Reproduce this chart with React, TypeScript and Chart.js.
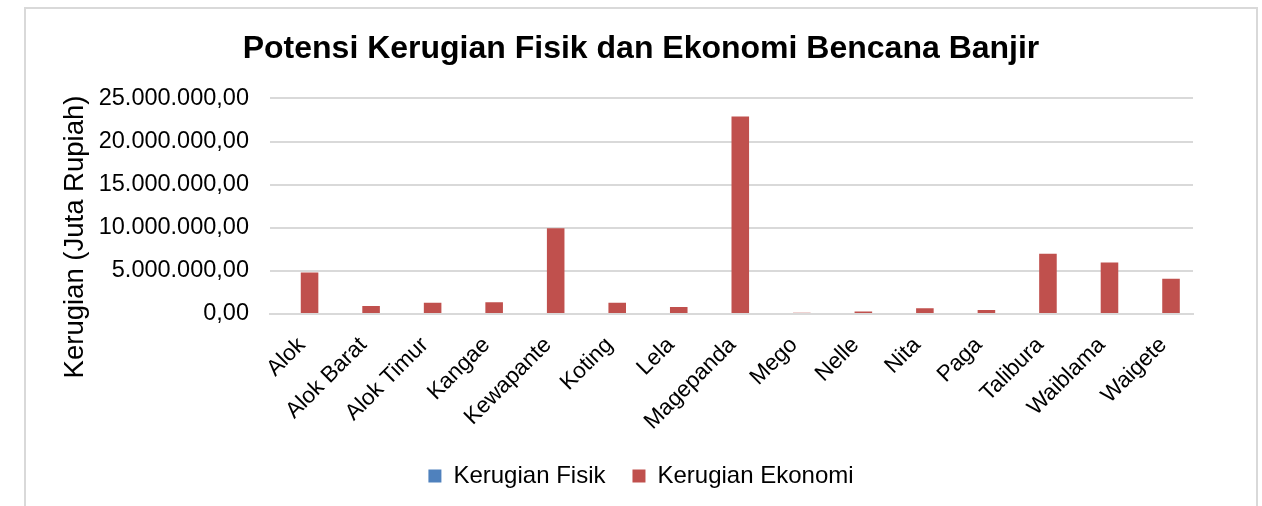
import React, { useEffect, useRef } from "react";
import { Chart, registerables } from "chart.js";

Chart.register(...registerables);

const categories = [
  "Alok", "Alok Barat", "Alok Timur", "Kangae", "Kewapante", "Koting", "Lela",
  "Magepanda", "Mego", "Nelle", "Nita", "Paga", "Talibura", "Waiblama", "Waigete",
];
const kerugianFisik = [0, 0, 0, 0, 0, 0, 0, 0, 0, 0, 0, 0, 0, 0, 0];
const kerugianEkonomi = [
  4800000, 930000, 1310000, 1350000, 9950000, 1310000, 810000,
  22900000, 150000, 300000, 660000, 470000, 7000000, 5970000, 4100000,
];
const yTicks = [0, 5000000, 10000000, 15000000, 20000000, 25000000];

const chartTitle = "Potensi Kerugian Fisik dan Ekonomi Bencana Banjir";
const yTitle = "Kerugian (Juta Rupiah)";
const seriesNames = ["Kerugian Fisik", "Kerugian Ekonomi"];

const FONT = "'Liberation Sans', Arial, sans-serif";

function fmt(v: number): string {
  const [i, d] = v.toFixed(2).split(".");
  return i.replace(/\B(?=(\d{3})+(?!\d))/g, ".") + "," + d;
}

const yTitlePlugin = {
  id: "yTitlePlugin",
  afterDraw(chart: any) {
    const ctx = chart.ctx;
    ctx.save();
    ctx.translate(50, 229);
    ctx.rotate(-Math.PI / 2);
    ctx.font = `27.5px ${FONT}`;
    ctx.fillStyle = "#000000";
    ctx.textAlign = "center";
    ctx.textBaseline = "middle";
    ctx.fillText(yTitle, 0, 0);
    ctx.restore();
  },
};

export default function App() {
  const ref = useRef<HTMLCanvasElement | null>(null);

  useEffect(() => {
    if (!ref.current) return;
    const chart = new Chart(ref.current, {
      type: "bar",
      data: {
        labels: categories,
        datasets: [
          {
            label: seriesNames[0],
            data: kerugianFisik,
            backgroundColor: "#4F81BD",
            categoryPercentage: 0.571,
            barPercentage: 1,
          },
          {
            label: seriesNames[1],
            data: kerugianEkonomi,
            backgroundColor: "#C0504D",
            categoryPercentage: 0.571,
            barPercentage: 1,
          },
        ],
      },
      options: {
        responsive: false,
        animation: false,
        layout: { padding: { left: 0, right: 0, top: 0, bottom: 30 } },
        plugins: {
          title: {
            display: true,
            text: chartTitle,
            color: "#000000",
            font: { family: FONT, size: 32, weight: "bold" },
            padding: { top: 22, bottom: 30 },
          },
          legend: {
            display: true,
            position: "bottom",
            labels: {
              color: "#000000",
              font: { family: FONT, size: 24 },
              boxWidth: 13,
              boxHeight: 13,
              padding: 27,
            },
          },
          tooltip: { enabled: false },
        },
        scales: {
          x: {
            grid: { display: false, drawTicks: false },
            border: { display: true, color: "#d9d9d9", width: 2 },
            ticks: {
              autoSkip: false,
              maxRotation: 45,
              minRotation: 45,
              color: "#000000",
              font: { family: FONT, size: 22.5 },
              padding: 18,
              labelOffset: 1,
            },
            afterFit: (s: any) => {
              s.height = 123;
            },
          },
          y: {
            min: 0,
            max: 25000000,
            afterBuildTicks: (s: any) => {
              s.ticks = yTicks.map((v) => ({ value: v }));
            },
            grid: { color: "#d9d9d9", lineWidth: 2, drawTicks: false },
            border: { display: false },
            ticks: {
              color: "#000000",
              font: { family: FONT, size: 23.5 },
              padding: 21,
              callback: (v: any) => fmt(Number(v)),
            },
            afterFit: (s: any) => {
              s.width = 245;
            },
          },
          yRight: {
            type: "linear",
            position: "right",
            display: true,
            grid: { display: false, drawTicks: false },
            border: { display: false },
            ticks: { display: false },
            afterFit: (s: any) => {
              s.width = 64;
            },
          },
        },
      },
      plugins: [yTitlePlugin],
    });
    return () => chart.destroy();
  }, []);

  return (
    <div style={{ position: "fixed", left: 0, top: 0, width: 1262, height: 506, overflow: "hidden", background: "#ffffff" }}>
      <div
        style={{
          position: "absolute",
          left: 24,
          top: 7,
          width: 1234,
          height: 540,
          border: "2px solid #d9d9d9",
          boxSizing: "border-box",
        }}
      />
      <canvas
        ref={ref}
        width={1232}
        height={520}
        style={{ position: "absolute", left: 25, top: 8, width: 1232, height: 520 }}
      />
    </div>
  );
}
